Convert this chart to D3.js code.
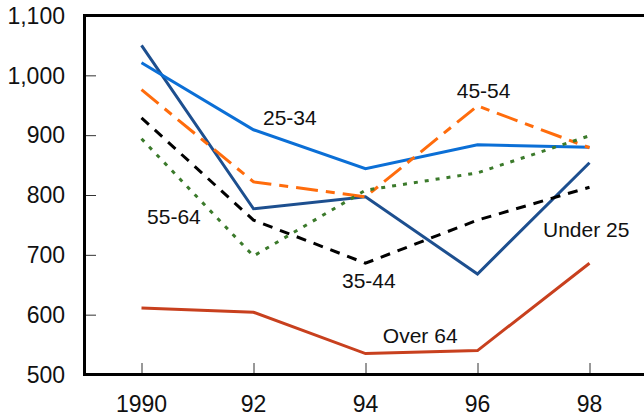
<!DOCTYPE html>
<html>
<head>
<meta charset="utf-8">
<script src="https://cdn.jsdelivr.net/npm/d3@7"></script>
<style>
  html, body { margin: 0; padding: 0; background: #fff; }
  svg { display: block; }
  text { font-family: "Liberation Sans", Arial, sans-serif; fill: #111; }
</style>
</head>
<body>
<svg id="chart" width="644" height="419"></svg>
<script>
const years = [1990, 1992, 1994, 1996, 1998];
const xTickLabels = ["1990", "92", "94", "96", "98"];
const yTicks = [500, 600, 700, 800, 900, 1000, 1100];

const under25 = [1050, 777, 797, 668, 854];
const age25to34 = [1021, 909, 844, 884, 880];
const age45to54 = [976, 822, 797, 949, 879];
const age35to44 = [929, 758, 686, 758, 813];
const age55to64 = [894, 698, 808, 837, 899];
const over64 = [611, 604, 535, 540, 686];

const seriesNames = ["Under 25", "25-34", "45-54", "35-44", "55-64", "Over 64"];
const seriesValues = [under25, age25to34, age45to54, age35to44, age55to64, over64];

// label anchors in data coordinates (year, value)
const labelYears = [1997.17, 1992.17, 1995.63, 1993.58, 1990.10, 1994.31];
const labelValues = [730, 917, 962, 645, 751.5, 553];

const styles = {
  "Under 25": { color: "#1d4f8f", dash: null },
  "25-34": { color: "#0b6fd6", dash: null },
  "45-54": { color: "#ff6c0c", dash: "22,8,9,8" },
  "35-44": { color: "#000000", dash: "10,8" },
  "55-64": { color: "#3b7a2b", dash: "4,7" },
  "Over 64": { color: "#c8401e", dash: null }
};

const svg = d3.select("#chart");
const pLeft = 84.5, pRight = 644, pTop = 15.5, pBottom = 374.5;

const x = d3.scaleLinear().domain([1990, 1998]).range([141.5, 589.5]);
const y = d3.scaleLinear().domain([500, 1100]).range([pBottom, pTop]);

// y tick marks (inside)
const yAxis = d3.axisRight(y).tickValues(yTicks.slice(1, -1)).tickSize(10).tickFormat("");
const gy = svg.append("g").attr("transform", `translate(${pLeft + 1.5},0)`).call(yAxis);
gy.select(".domain").remove();
gy.selectAll(".tick line").attr("stroke", "#333").attr("stroke-width", 1);

// y tick labels
svg.append("g").selectAll("text").data(yTicks).join("text")
  .attr("x", 65).attr("y", d => y(d))
  .attr("dy", "0.36em")
  .attr("text-anchor", "end")
  .attr("font-size", 23)
  .text(d => d3.format(",")(d));

// x tick marks (inside, upward)
const xAxis = d3.axisTop(x).tickValues(years).tickSize(10).tickFormat("");
const gx = svg.append("g").attr("transform", `translate(0,${pBottom - 1.5})`).call(xAxis);
gx.select(".domain").remove();
gx.selectAll(".tick line").attr("stroke", "#333").attr("stroke-width", 1);

// x tick labels
svg.append("g").selectAll("text").data(years).join("text")
  .attr("x", d => x(d)).attr("y", 412)
  .attr("text-anchor", "middle")
  .attr("font-size", 23)
  .text((d, i) => xTickLabels[i]);

// frame lines
svg.append("line").attr("x1", pLeft).attr("x2", pRight).attr("y1", pTop).attr("y2", pTop)
  .attr("stroke", "#000").attr("stroke-width", 3);
svg.append("line").attr("x1", pLeft).attr("x2", pRight).attr("y1", pBottom).attr("y2", pBottom)
  .attr("stroke", "#000").attr("stroke-width", 3);
svg.append("line").attr("x1", pLeft).attr("x2", pLeft).attr("y1", pTop - 1.5).attr("y2", pBottom + 1.5)
  .attr("stroke", "#000").attr("stroke-width", 3);

// lines
const line = d3.line().x((d, i) => x(years[i])).y(d => y(d));
svg.append("g").selectAll("path").data(seriesValues).join("path")
  .attr("d", d => line(d))
  .attr("fill", "none")
  .attr("stroke", (d, i) => styles[seriesNames[i]].color)
  .attr("stroke-width", 3)
  .attr("stroke-dasharray", (d, i) => styles[seriesNames[i]].dash)
  .attr("stroke-linejoin", "miter");

// series labels
svg.append("g").selectAll("text").data(seriesNames).join("text")
  .attr("x", (d, i) => x(labelYears[i]))
  .attr("y", (d, i) => y(labelValues[i]))
  .attr("font-size", 21)
  .text(d => d);
</script>
</body>
</html>
